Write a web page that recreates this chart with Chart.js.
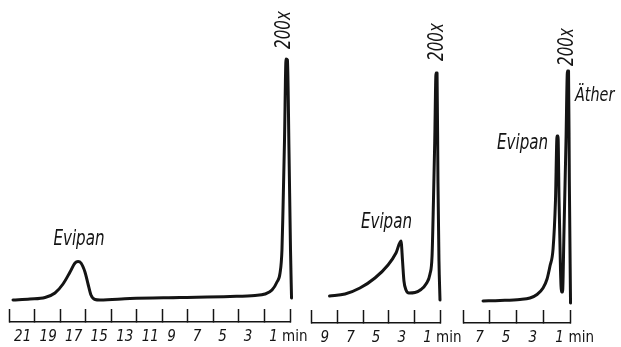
<!DOCTYPE html>
<html><head><meta charset="utf-8">
<script src="https://cdn.jsdelivr.net/npm/chart.js@4.4.0/dist/chart.umd.min.js"></script>
<style>
html,body{margin:0;padding:0;background:#fff;overflow:hidden;width:621px;height:347px;}
canvas{position:absolute;left:0;top:0;}
</style></head><body>
<canvas id="c1" width="621" height="347"></canvas>
<canvas id="c2" width="621" height="347"></canvas>
<canvas id="c3" width="621" height="347"></canvas>
<script>
// ---- Panel 1: retention time (min, counting down) and detector signal ----
const p1Time   = [21.71,20.38,19.20,18.42,17.79,17.24,16.85,16.61,16.38,16.07,15.83,15.60,15.28,14.89,12.54,8.62,4.70,2.74,1.96,1.41,1.02,0.78,0.63,0.55,0.43,0.31,0.20,0.08,-0.04,-0.12];
const p1Signal = [22,23,24.5,29,38,50,59,60.5,59,50,38,27,22.5,22,23.5,24.5,25.5,26.5,28,32,40,49,72,112,182,263,262,172,72,24];
const p1TickMarks  = [22,20,18,16,14,12,10,8,6,4,2,0];
const p1TickLabels = [21,19,17,15,13,11,9,7,5,3,1];

// ---- Panel 2 ----
const p2Time   = [8.61,7.40,6.24,5.07,4.05,3.43,3.04,2.92,2.81,2.65,2.42,1.95,1.48,1.09,0.78,0.62,0.51,0.41,0.31,0.23,0.16,0.08,0.00];
const p2Signal = [27,29,35,45,58,70,82,62,42,33,30,30.5,33.5,39,49,67,122,182,250,250,142,62,23];
const p2TickMarks  = [10,8,6,4,2,0];
const p2TickLabels = [9,7,5,3,1];

// ---- Panel 3 ----
const p3Time   = [6.52,5.25,3.75,3.00,2.47,2.02,1.72,1.50,1.27,1.09,0.97,0.90,0.82,0.71,0.64,0.56,0.45,0.30,0.19,0.11,0.05,-0.04];
const p3Signal = [22,22.5,23.5,25,28.5,35,44,57,74,122,187,187,122,52,31,31,92,182,252,252,142,20];
const p3TickMarks  = [8,6,4,2,0];
const p3TickLabels = [7,5,3,1];

const unitLabel = 'min';
const INK = '#141414';
const FAM = "'Liberation Sans Narrow','DejaVu Sans Condensed','Liberation Sans',sans-serif";

const notesPlugin = {
  id: 'notes',
  afterDatasetsDraw(chart, args, opts) {
    const ctx = chart.ctx, xs = chart.scales.x, ys = chart.scales.y;
    (opts.items || []).forEach(n => {
      ctx.save();
      ctx.font = n.font;
      ctx.fillStyle = INK;
      ctx.translate(xs.getPixelForValue(n.t), ys.getPixelForValue(n.s));
      if (n.rotate) ctx.rotate(-Math.PI / 2);
      ctx.scale(0.8, 1);
      ctx.textAlign = n.align;
      ctx.textBaseline = n.baseline;
      ctx.fillText(n.text, 0, 0);
      ctx.restore();
    });
  }
};

function makePanel(id, time, signal, marks, labels, cfg) {
  const pts = time.map((t, i) => ({x: t, y: signal[i]}));
  const allTicks = Array.from(new Set(marks.concat(labels))).sort((a, b) => a - b);
  const axisY = cfg.axisY;
  new Chart(document.getElementById(id), {
    type: 'line',
    data: { datasets: [{
      data: pts, borderColor: INK, borderWidth: 3, pointRadius: 0,
      cubicInterpolationMode: 'monotone', borderJoinStyle: 'round', borderCapStyle: 'round',
      clip: false, fill: false
    }]},
    options: {
      responsive: false, animation: false, events: [],
      layout: { padding: { left: cfg.left, right: 621 - cfg.right, top: 0, bottom: 0 } },
      plugins: { legend: {display: false}, tooltip: {enabled: false}, notes: { items: cfg.notes } },
      scales: {
        y: { display: false, min: 0, max: axisY },
        x: {
          type: 'linear', reverse: true, min: Math.min(...marks), max: Math.max(...marks),
          afterBuildTicks: s => { s.ticks = allTicks.map(v => ({value: v})); },
          afterFit: s => { s.height = 347 - axisY; },
          border: { display: true, color: INK, width: 1.5 },
          grid: {
            display: true, drawOnChartArea: false, drawTicks: true, tickLength: -13, tickWidth: 1.5,
            tickColor: c => (c.tick && marks.includes(c.tick.value)) ? INK : 'rgba(0,0,0,0)'
          },
          ticks: {
            autoSkip: false, maxRotation: 0, minRotation: 0, align: 'start',
            labelOffset: cfg.labelOffset, padding: 19, color: INK,
            font: c => (c.tick && c.tick.value === 0) ? {family: FAM, size: 15, style: 'normal'} : {family: FAM, size: 15, style: 'italic'},
            callback: v => labels.includes(v) ? String(v) : (v === 0 ? unitLabel : '')
          }
        }
      }
    },
    plugins: [notesPlugin]
  });
}

const fLabel = 'italic 21px ' + FAM;
makePanel('c1', p1Time, p1Signal, p1TickMarks, p1TickLabels, {
  left: 9.3, right: 290, axisY: 322, labelOffset: -8,
  notes: [
    {text: 'Evipan', t: 16.54, s: 77, font: fLabel, align: 'center', baseline: 'alphabetic'},
    {text: '200x', t: 0.39, s: 292, font: fLabel, align: 'center', baseline: 'middle', rotate: true}
  ]
});
makePanel('c2', p2Time, p2Signal, p2TickMarks, p2TickLabels, {
  left: 311.7, right: 440, axisY: 323, labelOffset: -4,
  notes: [
    {text: 'Evipan', t: 4.17, s: 95, font: fLabel, align: 'center', baseline: 'alphabetic'},
    {text: '200x', t: 0.16, s: 281, font: fLabel, align: 'center', baseline: 'middle', rotate: true}
  ]
});
makePanel('c3', p3Time, p3Signal, p3TickMarks, p3TickLabels, {
  left: 463.3, right: 570, axisY: 323, labelOffset: -1.5,
  notes: [
    {text: 'Evipan', t: 3.56, s: 174, font: fLabel, align: 'center', baseline: 'alphabetic'},
    {text: 'Äther', t: -0.37, s: 222, font: 'italic 20px ' + FAM, align: 'left', baseline: 'alphabetic'},
    {text: '200x', t: 0.19, s: 276, font: fLabel, align: 'center', baseline: 'middle', rotate: true}
  ]
});
</script>
</body></html>
